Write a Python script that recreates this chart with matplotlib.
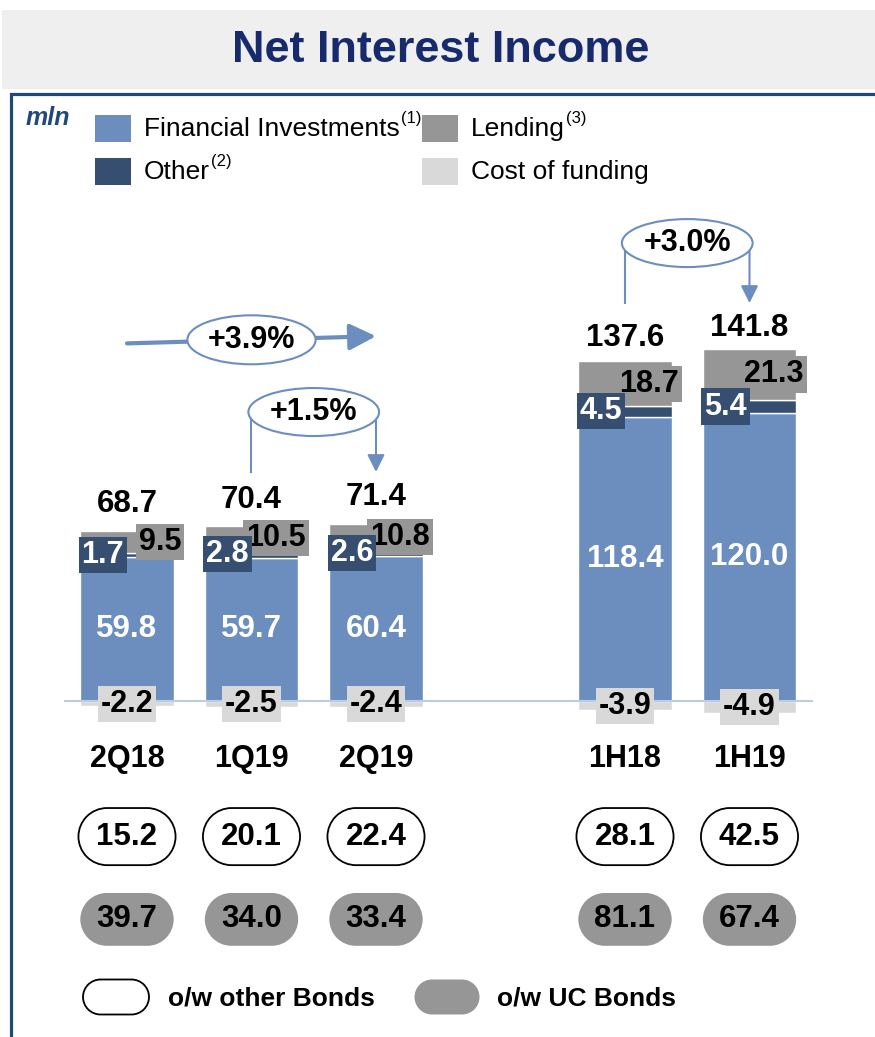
import matplotlib.pyplot as plt
from matplotlib.patches import Rectangle, Ellipse, PathPatch
from matplotlib.path import Path
import numpy as np

plt.rcParams['font.family'] = ['Liberation Sans', 'DejaVu Sans']

# data (mln)
periods = ['2Q18', '1Q19', '2Q19', '1H18', '1H19']
positions = [0, 1, 2, 4, 5]
financial_investments = [59.8, 59.7, 60.4, 118.4, 120.0]
other = [1.7, 2.8, 2.6, 4.5, 5.4]
lending = [9.5, 10.5, 10.8, 18.7, 21.3]
cost_of_funding = [-2.2, -2.5, -2.4, -3.9, -4.9]
totals = [68.7, 70.4, 71.4, 137.6, 141.8]
other_bonds = [15.2, 20.1, 22.4, 28.1, 42.5]
uc_bonds = [39.7, 34.0, 33.4, 81.1, 67.4]
yoy_change = ('+3.9%', 0, 2)
step_changes = [('+1.5%', 1, 2), ('+3.0%', 3, 4)]

FIN = '#6c8ebf'
OTHER = '#364e6f'
LEND = '#969696'
COST = '#d9d9d9'
ARROW = '#6c8ebf'
NAVY = '#1f497d'


def pill(cx, cy, width, height, aspect=1.0, **kw):
    # rounded-end box; aspect = y units per x unit (same pixel length)
    rx = height / 2 / aspect
    ry = height / 2
    right = Path.arc(-90, 90)
    left = Path.arc(90, 270)
    rv = right.vertices * [rx, ry] + [cx + width / 2 - rx, cy]
    lv = left.vertices * [rx, ry] + [cx - width / 2 + rx, cy]
    lcodes = left.codes.copy()
    lcodes[0] = Path.LINETO
    verts = np.vstack([rv, lv, rv[:1]])
    codes = np.concatenate([right.codes, lcodes, [Path.CLOSEPOLY]])
    return PathPatch(Path(verts, codes), **kw)


fig = plt.figure(figsize=(8.75, 10.37), dpi=100)

# decoration layer in pixel coordinates
deco = fig.add_axes([0, 0, 1, 1])
deco.set_xlim(0, 875)
deco.set_ylim(1037, 0)
deco.axis('off')

deco.add_patch(Rectangle((2, 10), 873, 79, fc='#efefef', ec='none'))
deco.text(441, 50, 'Net Interest Income', fontsize=32.5, fontweight='bold',
          color='#172a6b', ha='center', va='center')
deco.plot([11, 11, 875], [1037, 94, 94], color=NAVY, lw=2.3,
          solid_joinstyle='miter')
deco.text(48, 118, 'mln', fontsize=18, fontweight='bold', fontstyle='italic',
          color=NAVY, ha='center', va='center')

legend_items = [(95, 115, FIN, 'Financial Investments', '(1)'),
                (95, 158, OTHER, 'Other', '(2)'),
                (422, 115, LEND, 'Lending', '(3)'),
                (422, 158, COST, 'Cost of funding', None)]
for x, y, c, name, sup in legend_items:
    deco.add_patch(Rectangle((x, y), 36, 27, fc=c, ec='none'))
    t = deco.text(x + 49, y + 14, name, fontsize=19, ha='left', va='center')
    if sup:
        deco.annotate(sup, xy=(1, 1), xycoords=t, xytext=(1, -1),
                      textcoords='offset points', fontsize=12,
                      ha='left', va='center')

# bottom legend
deco.add_patch(pill(116, 997, 66, 35, fc='white', ec='black', lw=1.3))
deco.text(168, 998, 'o/w other Bonds', fontsize=19, fontweight='bold',
          ha='left', va='center')
deco.add_patch(pill(447, 997, 65, 35, fc=LEND, ec='none'))
deco.text(497, 998, 'o/w UC Bonds', fontsize=19, fontweight='bold',
          ha='left', va='center')

# chart layer: 124.5 px per slot, 2.4 px per mln, baseline at y=701 px
ax = fig.add_axes([0, 0, 1, 1])
ax.patch.set_visible(False)
ax.set_xlim(-127 / 124.5, (875 - 127) / 124.5)
ax.set_ylim(-(1037 - 701) / 2.4, 701 / 2.4)
ax.axis('off')
aspect = 124.5 / 2.4

w = 0.75
base2 = [f + o for f, o in zip(financial_investments, other)]
ax.bar(positions, financial_investments, w, color=FIN, edgecolor='white', linewidth=1)
ax.bar(positions, other, w, bottom=financial_investments, color=OTHER,
       edgecolor='white', linewidth=1)
ax.bar(positions, lending, w, bottom=base2, color=LEND, edgecolor='white', linewidth=1)
ax.bar(positions, cost_of_funding, w, color=COST, edgecolor='white', linewidth=1)
ax.plot([-0.5, 5.5], [0, 0], color='#b9cde5', lw=1.5, zorder=3)

box_kw = dict(fontsize=22, fontweight='bold', va='center')
for i, p in enumerate(positions):
    f, o, l, c = financial_investments[i], other[i], lending[i], cost_of_funding[i]
    ax.text(p, f / 2, f'{f:.1f}', color='white', fontsize=22.5, fontweight='bold',
            ha='center', va='center', zorder=4)
    ax.text(p + w / 2 + 0.06, f + o + l / 2, f'{l:.1f}', color='black', ha='right',
            zorder=4, bbox=dict(boxstyle='square,pad=0.1', fc=LEND, ec='none'), **box_kw)
    ax.text(p - w / 2 + 0.01, f + o / 2, f'{o:.1f}', color='white', ha='left',
            zorder=5, bbox=dict(boxstyle='square,pad=0.1', fc=OTHER, ec='none'), **box_kw)
    ax.text(p, c / 2, f'{c:.1f}', color='black', ha='center', zorder=4,
            bbox=dict(boxstyle='square,pad=0.1', fc=COST, ec='none'), **box_kw)
    ax.text(p, totals[i] + 13.5, f'{totals[i]:.1f}', fontsize=22.5, fontweight='bold',
            ha='center', va='center')
    ax.text(p, -24, periods[i], fontsize=22, fontweight='bold', ha='center', va='center')

    # bond pills
    ax.add_patch(pill(p, -56.5, 0.78, 23.8, aspect, fc='white', ec='black', lw=1.3))
    ax.text(p, -56.5, f'{other_bonds[i]:.1f}', fontsize=22.5, fontweight='bold',
            ha='center', va='center')
    ax.add_patch(pill(p, -91, 0.75, 22, aspect, fc=LEND, ec='none'))
    ax.text(p, -91, f'{uc_bonds[i]:.1f}', fontsize=22.5, fontweight='bold',
            ha='center', va='center')

# year-on-year arrow
label, a, b = yoy_change
xa, xb = positions[a], positions[b]
ax.annotate('', xy=(xb, 152), xytext=(xa, 149),
            arrowprops=dict(arrowstyle='-|>,head_length=0.8,head_width=0.4',
                            color=ARROW, lw=3, shrinkA=0, shrinkB=0, mutation_scale=20))
ax.add_patch(Ellipse(((xa + xb) / 2, 150.5), 1.03, 20.4, fc='white', ec=ARROW,
                     lw=1.5, zorder=5))
ax.text((xa + xb) / 2, 150.5, label, fontsize=22, fontweight='bold',
        ha='center', va='center', zorder=6)

# step arrows
for label, a, b in step_changes:
    xa, xb = positions[a], positions[b]
    cy = max(totals[a], totals[b]) + 49
    ax.plot([xa, xa], [cy, cy - 25], color=ARROW, lw=1.5)
    ax.annotate('', xy=(xb, cy - 25), xytext=(xb, cy),
                arrowprops=dict(arrowstyle='-|>,head_length=0.7,head_width=0.35',
                                color=ARROW, lw=1.5, shrinkA=0, shrinkB=0,
                                mutation_scale=15))
    ax.add_patch(Ellipse(((xa + xb) / 2, cy), 1.05, 20, fc='white', ec=ARROW,
                         lw=1.5, zorder=5))
    ax.text((xa + xb) / 2, cy, label, fontsize=22, fontweight='bold',
            ha='center', va='center', zorder=6)

fig.savefig('out.png', dpi=100)
